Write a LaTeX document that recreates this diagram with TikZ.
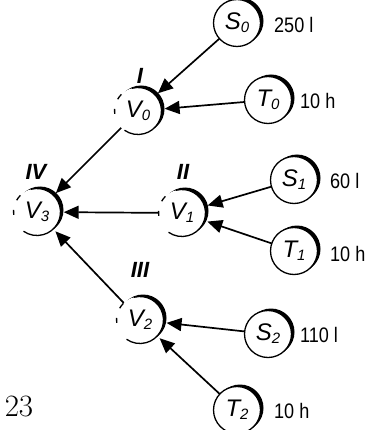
\documentclass[tikz,border=0pt]{standalone}
\usepackage{fontspec}
\setmainfont{Liberation Sans}
\newfontfamily\lmroman{Latin Modern Roman}
\usetikzlibrary{arrows.meta}
\tikzset{
  vtx/.style={circle, minimum size=47pt, inner sep=0pt, font=\fontsize{24}{26}\selectfont\itshape},
  amt/.style={anchor=west, inner sep=0pt, font=\fontsize{21}{23}\selectfont},
  roman/.style={inner sep=0pt, font=\fontsize{22}{24}\selectfont\itshape\bfseries},
  conn/.style={line width=1.7pt, -{Triangle[length=15pt,width=13pt]}, shorten >=3pt},
}
\newcommand{\sub}[1]{\raisebox{-0.25ex}{\fontsize{15}{16}\selectfont\itshape #1}}
\newcommand{\amount}[1]{\scalebox{0.86}[1]{#1}}
\newcommand{\shadowed}[1]{%
  \fill[black] ([shift={(3pt,2pt)}]#1.center) circle (23.5pt);
  \fill[white] (#1.center) circle (23.5pt);
}
\newcommand{\fullcirc}[1]{%
  \shadowed{#1}
  \draw[line width=1.3pt] (#1.center) circle (23.5pt);
}
\newcommand{\brokencirc}[1]{%
  \shadowed{#1}
  \draw[line width=1.3pt] (#1.center) ++(105:23.5pt) arc[start angle=105, end angle=-125, radius=23.5pt];
  \draw[line width=1.3pt] (#1.center) ++(135:23.5pt) arc[start angle=135, end angle=150, radius=23.5pt];
  \draw[line width=1.3pt] (#1.center) ++(175:23.5pt) arc[start angle=175, end angle=187, radius=23.5pt];
}
\begin{document}
\begin{tikzpicture}[x=1pt,y=-1pt]
\useasboundingbox (0,0) rectangle (367,430);
% circles
\node[vtx] (S0) at (237,23) {};
\node[vtx] (T0) at (268,100) {};
\node[vtx] (V0) at (138,111) {};
\node[vtx] (V3) at (37,212) {};
\node[vtx] (V1) at (182,213) {};
\node[vtx] (S1) at (294,180) {};
\node[vtx] (T1) at (294,251) {};
\node[vtx] (V2) at (140,320) {};
\node[vtx] (S2) at (268,334) {};
\node[vtx] (T2) at (237,410) {};
\fullcirc{S0}\fullcirc{T0}\fullcirc{S1}\fullcirc{T1}\fullcirc{S2}\fullcirc{T2}
\brokencirc{V0}\brokencirc{V1}\brokencirc{V2}\brokencirc{V3}
% labels inside
\node[vtx] at (S0) {S\sub{0}};
\node[vtx] at (T0) {T\sub{0}};
\node[vtx] at (V0) {V\sub{0}};
\node[vtx] at (V3) {V\sub{3}};
\node[vtx] at (V1) {V\sub{1}};
\node[vtx] at (S1) {S\sub{1}};
\node[vtx] at (T1) {T\sub{1}};
\node[vtx] at (V2) {V\sub{2}};
\node[vtx] at (S2) {S\sub{2}};
\node[vtx] at (T2) {T\sub{2}};
% roman numerals
\node[roman] (lI) at (140,76) {I};
\node[roman] (lIV) at (36,172) {IV};
\node[roman] (lII) at (183,172) {II};
\node[roman] (lIII) at (140,270) {III};
% amounts
\node[amt] (a0) at (274,25) {\amount{250 l}};
\node[amt] (b0) at (300,101) {\amount{10 h}};
\node[amt] (a1) at (330,181) {\amount{60 l}};
\node[amt] (b1) at (330,254) {\amount{10 h}};
\node[amt] (a2) at (300,335) {\amount{110 l}};
\node[amt] (b2) at (274,411) {\amount{10 h}};
\node[font=\lmroman\fontsize{31}{33}\selectfont, inner sep=0pt] (pg) at (19,406) {23};
% connectors
\draw[conn] (S0) -- (V0);
\draw[conn] (T0) -- (V0);
\draw[conn] (V0) -- (V3);
\draw[conn] (V1) -- (V3);
\draw[conn] (V2) -- (V3);
\draw[conn] (S1) -- (V1);
\draw[conn] (T1) -- (V1);
\draw[conn] (S2) -- (V2);
\draw[conn] (T2) -- (V2);
\end{tikzpicture}
\end{document}
